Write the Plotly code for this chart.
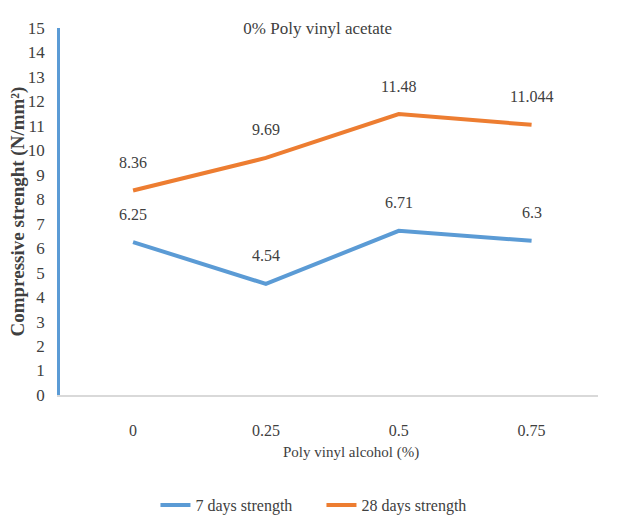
import plotly.graph_objects as go

categories = ["0", "0.25", "0.5", "0.75"]
days7 = [6.25, 4.54, 6.71, 6.3]
days28 = [8.36, 9.69, 11.48, 11.044]
label7 = ["6.25", "4.54", "6.71", "6.3"]
label28 = ["8.36", "9.69", "11.48", "11.044"]
yticks = list(range(0, 16))

FONT = "Liberation Serif, Times New Roman, serif"
BLUE = "#5B9BD5"
ORANGE = "#ED7D31"
TXT = "#404040"

fig = go.Figure()
fig.add_trace(go.Scatter(x=categories, y=days7, mode="lines", name="7 days strength",
                         line=dict(color=BLUE, width=4)))
fig.add_trace(go.Scatter(x=categories, y=days28, mode="lines", name="28 days strength",
                         line=dict(color=ORANGE, width=4)))

annotations = []
for ys, ls in [(days7, label7), (days28, label28)]:
    for i, (y, l) in enumerate(zip(ys, ls)):
        annotations.append(dict(x=i, y=y, xref="x", yref="y", text=l, showarrow=False, yshift=28,
                                font=dict(family=FONT, size=16, color=TXT)))
# x-axis title, placed in paper coordinates (plot spans 52..590 px wide, 20..387 px tall)
annotations.append(dict(x=(351 - 8 - 52) / 538, y=(387 - (452 - 8)) / 367,
                        xref="paper", yref="paper", yanchor="middle",
                        text="Poly vinyl alcohol (%)", showarrow=False,
                        font=dict(family=FONT, size=15, color=TXT)))
# y-axis title as a rotated annotation
annotations.append(dict(x=(9 - 52) / 538, y=0.5, xref="paper", yref="paper",
                        xanchor="center", yanchor="middle", textangle=-90,
                        text="<b>Compressive strenght (N/mm²)</b>", showarrow=False,
                        font=dict(family=FONT, size=19, color=TXT)))

fig.update_layout(
    width=636, height=523,
    margin=dict(l=52, r=46, t=20, b=136, autoexpand=False),
    paper_bgcolor="white", plot_bgcolor="white",
    font=dict(family=FONT, color=TXT),
    title=dict(text="0% Poly vinyl acetate", x=0.487, xanchor="center", y=0.962, yanchor="middle",
               font=dict(family=FONT, size=17, color=TXT)),
    annotations=annotations,
    showlegend=True,
    legend=dict(orientation="h", x=0.486, xanchor="center", y=-0.30, yanchor="middle",
                font=dict(family=FONT, size=16, color=TXT), itemwidth=30,
                traceorder="normal", entrywidthmode="pixels", entrywidth=121),
    xaxis=dict(type="category", range=[-0.55, 3.5], showgrid=False, showline=True,
               linecolor="#D9D9D9", linewidth=1.5, ticks="", tickfont=dict(size=16, family=FONT, color=TXT),
               ticklabelstandoff=20),
    yaxis=dict(range=[0, 15], tickvals=yticks, showgrid=False, showline=True, linecolor=BLUE,
               linewidth=2.5, ticks="", zeroline=False, tickfont=dict(size=17, family=FONT, color=TXT),
               ticklabelstandoff=9),
)

fig.write_html("out.html")
